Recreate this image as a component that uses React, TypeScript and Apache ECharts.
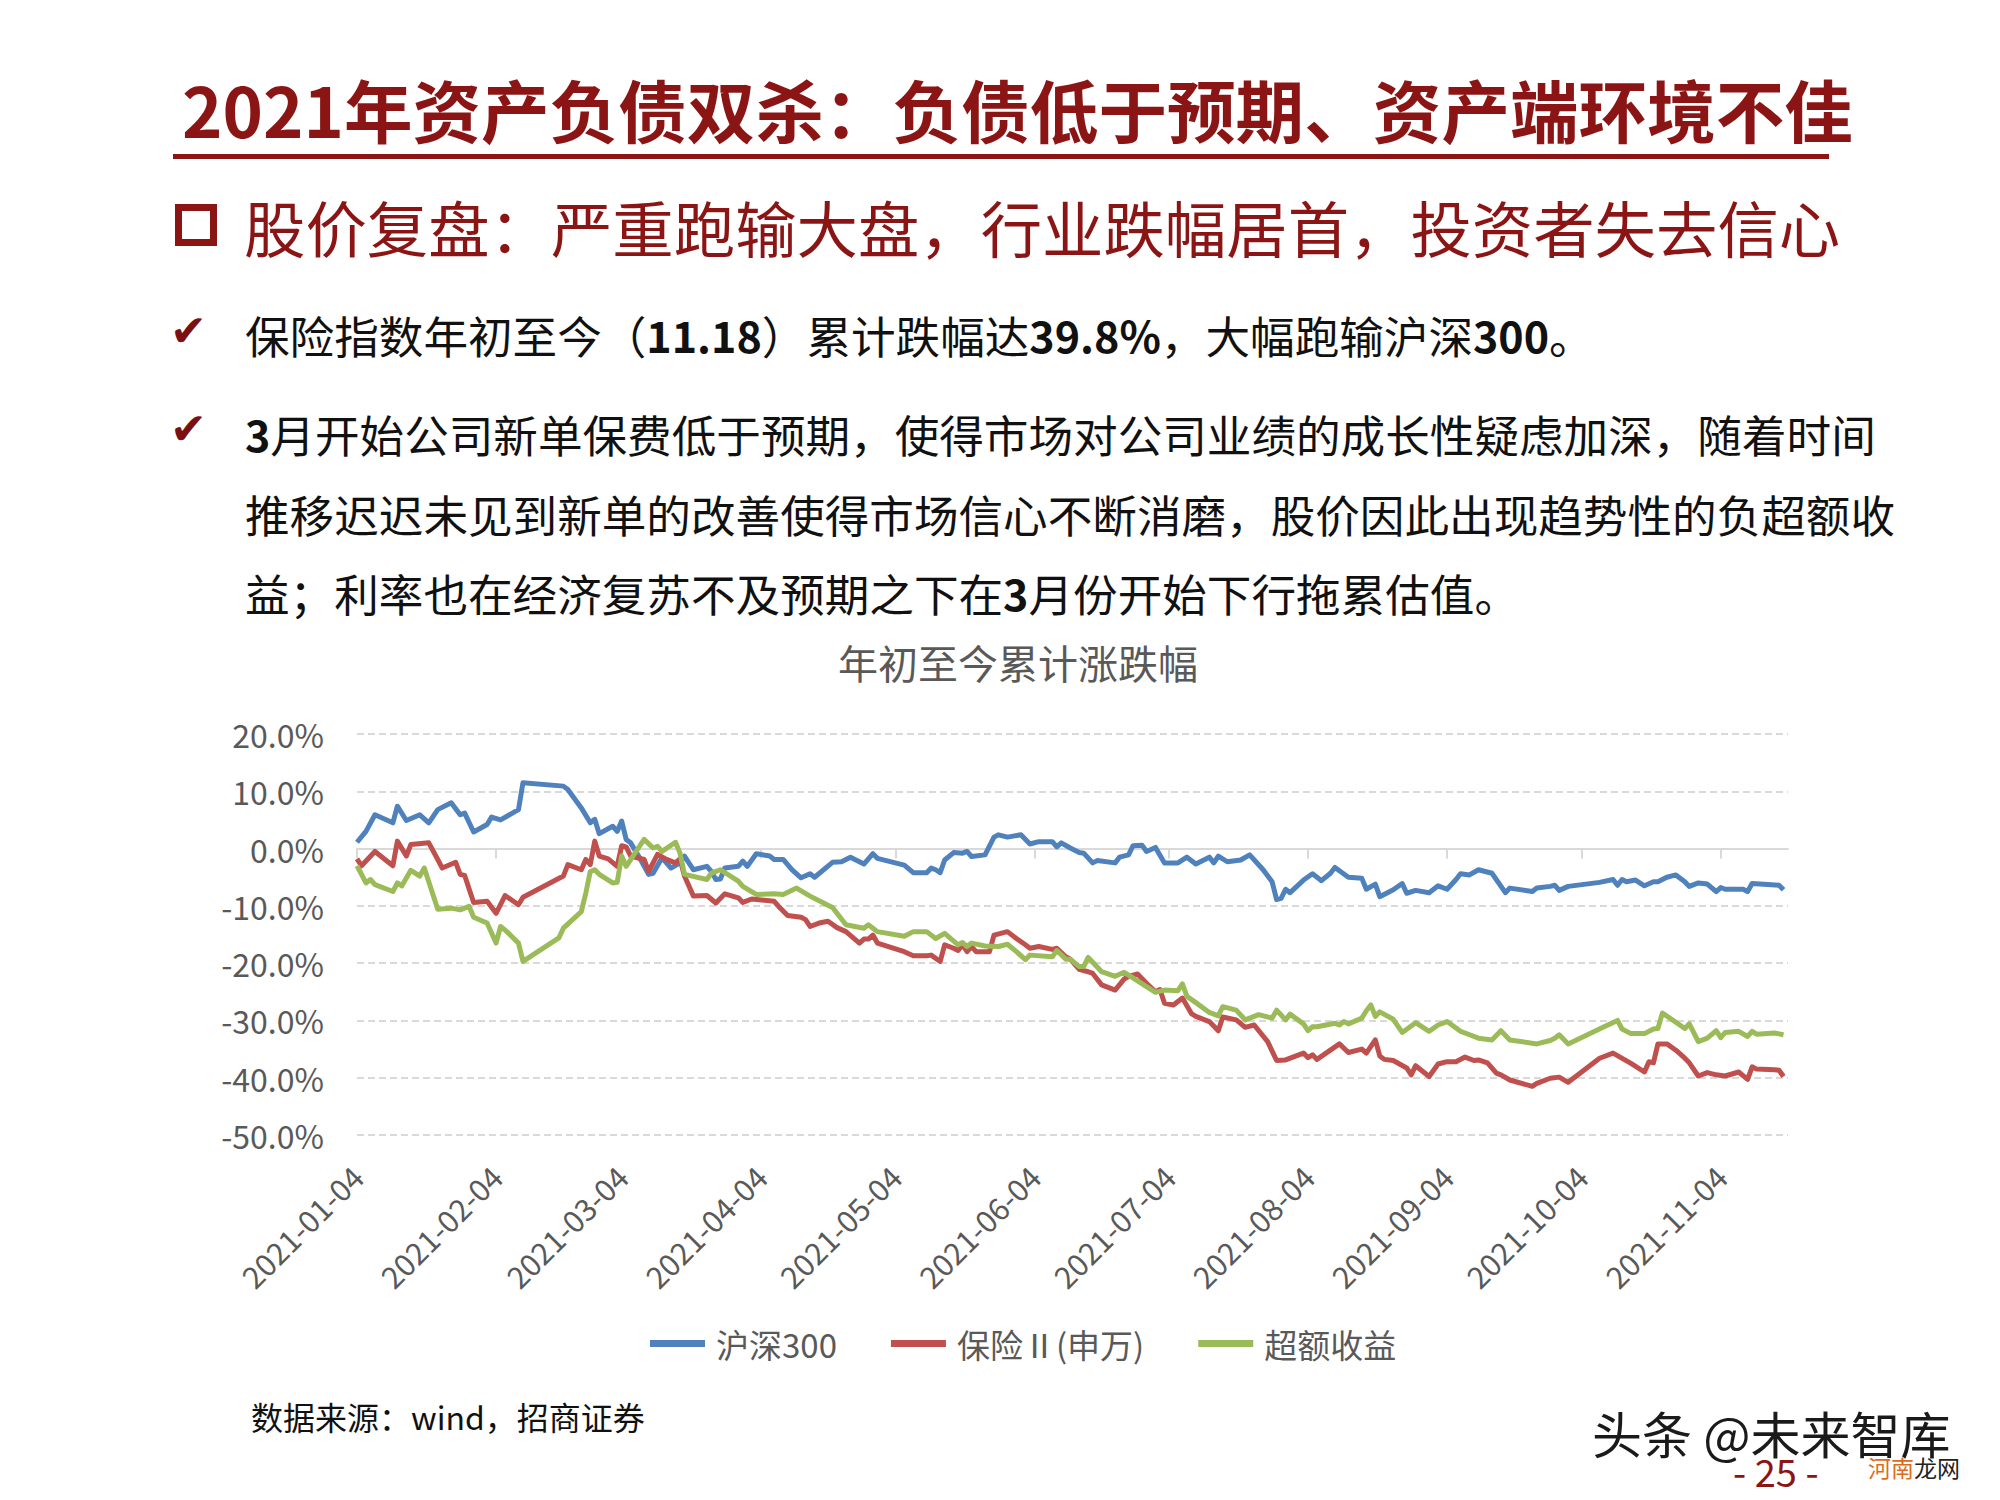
import React, { useEffect, useRef } from "react";
import * as echarts from "echarts";

// ---------- data ----------
const START_DATE = "2021-01-04";
const tickDates = [
  "2021-01-04", "2021-02-04", "2021-03-04", "2021-04-04", "2021-05-04", "2021-06-04",
  "2021-07-04", "2021-08-04", "2021-09-04", "2021-10-04", "2021-11-04",
];
const seriesNames = ["沪深300", "保险Ⅱ(申万)", "超额收益"];
const yTicks = [-50, -40, -30, -20, -10, 0, 10, 20];

// [days since 2021-01-04, cumulative change %]
const hs300: [number, number][] = [
  [0, 1.1], [2, 3.0], [4, 5.9], [8, 4.5], [9, 7.4], [11, 4.9], [14, 5.9], [16, 4.5], [18, 6.8],
  [21, 8.0], [23, 5.9], [24, 6.2], [26, 2.9], [29, 4.2], [30, 5.5], [32, 5.0], [36, 6.8], [37, 11.5],
  [46, 10.9], [47, 10.3], [50, 7.1], [52, 4.5], [53, 5.1], [54, 2.6], [57, 3.9], [58, 3.0], [59, 4.8],
  [60, 1.6], [61, 1.0], [63, -1.6], [65, -4.5], [66, -4.3], [68, -1.6], [70, -3.4], [72, -2.5],
  [73, -1.3], [75, -3.7], [78, -3.1], [79, -4.0], [80, -5.4], [81, -5.3], [82, -3.4], [85, -3.1],
  [86, -2.2], [87, -3.1], [89, -0.9], [92, -1.3], [93, -1.9], [95, -1.9], [97, -3.7], [99, -5.1],
  [101, -4.4], [102, -5.0], [106, -2.4], [108, -2.3], [110, -1.5], [113, -2.7], [115, -0.9],
  [116, -1.7], [122, -2.9], [124, -4.2], [127, -4.2], [128, -3.4], [129, -3.7], [130, -4.2],
  [131, -2.0], [133, -0.7], [135, -0.8], [136, -0.5], [137, -1.4], [140, -1.1], [142, 2.0],
  [143, 2.4], [145, 2.0], [148, 2.4], [150, 0.8], [152, 1.2], [155, 1.2], [156, 0.3], [157, 1.0],
  [159, 0.1], [161, -0.7], [162, -0.8], [164, -2.5], [165, -2.1], [169, -2.5], [170, -1.5],
  [172, -1.1], [173, 0.5], [175, 0.6], [176, -0.5], [178, 0.2], [180, -2.5], [183, -2.5],
  [185, -1.5], [187, -2.7], [190, -1.5], [191, -2.5], [192, -1.3], [194, -2.3], [197, -2.0],
  [199, -1.1], [202, -3.7], [204, -5.8], [205, -8.9], [206, -8.7], [207, -7.1], [208, -7.7],
  [211, -5.5], [213, -4.4], [215, -5.6], [217, -4.3], [218, -3.3], [221, -5.0], [224, -5.2],
  [225, -7.1], [227, -6.2], [228, -8.4], [231, -7.2], [233, -6.1], [234, -7.8], [236, -7.3],
  [239, -7.7], [241, -6.5], [243, -7.1], [245, -5.4], [246, -4.4], [248, -4.6], [250, -3.7],
  [253, -4.3], [256, -7.7], [257, -6.9], [262, -7.5], [263, -6.9], [266, -6.6], [267, -6.4],
  [268, -7.3], [270, -6.6], [277, -5.9], [280, -5.4], [281, -6.4], [282, -5.4], [283, -5.8],
  [285, -5.5], [287, -6.5], [289, -5.8], [290, -5.8], [292, -5.0], [294, -4.6], [296, -5.8],
  [297, -6.6], [299, -6.0], [301, -6.2], [303, -7.5], [304, -6.8], [305, -7.1], [309, -7.1],
  [310, -7.5], [311, -6.1], [317, -6.4], [318, -7.2],
];

const insurance: [number, number][] = [
  [0, -1.8], [1, -3.0], [4, -0.5], [8, -3.0], [9, 1.3], [11, -1.3], [12, 0.7], [16, 1.0],
  [18, -1.9], [19, -3.4], [22, -2.4], [23, -4.5], [24, -4.7], [26, -9.4], [29, -9.2], [31, -11.3],
  [33, -8.2], [36, -9.8], [37, -8.5], [46, -4.8], [47, -2.8], [50, -3.7], [51, -1.9], [52, -2.8],
  [53, 1.3], [54, -1.3], [56, -1.8], [58, -3.1], [59, 0.5], [60, 0.3], [61, -1.3], [64, -1.9],
  [65, -4.0], [67, -1.0], [69, -1.9], [71, -2.5], [72, -1.8], [73, -4.8], [75, -8.3], [78, -8.2],
  [80, -9.5], [82, -7.9], [85, -8.6], [86, -9.4], [88, -8.8], [93, -9.2], [94, -10.1], [96, -11.7],
  [99, -12.0], [100, -12.4], [101, -13.6], [103, -13.0], [105, -12.7], [107, -13.8], [109, -14.5],
  [112, -16.5], [113, -15.8], [114, -15.8], [115, -15.1], [116, -16.5], [122, -18.0], [124, -18.7],
  [127, -18.7], [128, -18.6], [130, -19.7], [131, -16.8], [133, -17.4], [134, -17.8], [135, -16.8],
  [136, -18.0], [137, -17.1], [138, -18.0], [141, -18.0], [142, -15.1], [145, -14.5], [147, -15.7],
  [149, -16.8], [150, -17.4], [152, -17.1], [155, -17.6], [156, -17.4], [158, -18.9], [159, -19.3],
  [161, -21.1], [163, -21.5], [164, -21.8], [166, -23.8], [169, -24.7], [171, -22.8], [172, -22.3],
  [174, -21.9], [176, -23.5], [178, -25.0], [179, -24.6], [180, -27.0], [182, -27.3], [184, -26.1],
  [186, -28.8], [187, -29.3], [190, -30.2], [192, -31.8], [193, -29.4], [196, -29.9], [198, -31.2],
  [200, -30.8], [203, -33.7], [205, -37.0], [207, -36.9], [211, -35.7], [212, -36.5], [213, -36.0],
  [214, -36.8], [219, -34.1], [221, -35.6], [224, -35.0], [225, -35.7], [227, -33.4], [228, -36.2],
  [229, -36.8], [231, -37.0], [234, -38.3], [235, -39.5], [236, -37.9], [239, -39.8], [241, -37.6],
  [243, -37.2], [245, -37.2], [247, -36.4], [249, -37.0], [250, -36.9], [252, -37.4], [254, -39.2],
  [255, -39.5], [257, -40.4], [262, -41.5], [263, -41.0], [266, -40.1], [268, -39.9], [270, -40.8],
  [277, -36.6], [280, -35.7], [284, -37.5], [287, -39.0], [288, -37.2], [289, -37.4], [290, -34.1],
  [292, -34.1], [294, -35.2], [296, -36.6], [297, -37.4], [299, -39.7], [301, -39.1], [303, -39.5],
  [305, -39.7], [308, -39.0], [310, -40.3], [311, -38.1], [312, -38.5], [316, -38.6], [317, -38.7],
  [318, -39.8],
];

const excess: [number, number][] = [
  [0, -3.0], [2, -6.0], [3, -5.4], [4, -6.3], [8, -7.5], [9, -6.0], [10, -6.5], [12, -3.8],
  [14, -4.8], [15, -3.4], [18, -10.6], [21, -10.4], [23, -10.7], [25, -10.1], [26, -12.0],
  [29, -13.0], [31, -16.5], [32, -13.6], [33, -14.2], [36, -16.5], [37, -19.7], [45, -15.6],
  [46, -13.9], [50, -11.0], [51, -7.8], [52, -4.0], [53, -3.7], [54, -4.5], [57, -6.0], [58, -5.9],
  [59, -1.3], [60, -3.1], [64, 1.6], [66, 0.1], [67, 0.4], [68, -0.5], [71, 1.1], [72, -0.8],
  [73, -4.5], [78, -5.4], [79, -4.3], [81, -3.7], [85, -5.7], [86, -6.6], [89, -8.0], [93, -7.9],
  [95, -8.0], [98, -6.9], [101, -8.3], [104, -9.5], [106, -10.3], [107, -11.3], [109, -13.3],
  [113, -13.9], [114, -13.3], [115, -13.9], [116, -14.5], [122, -15.3], [124, -14.5], [127, -14.5],
  [129, -15.7], [131, -14.8], [134, -16.8], [135, -16.4], [136, -17.1], [137, -16.5], [140, -17.0],
  [143, -17.1], [145, -16.7], [147, -18.0], [149, -19.4], [150, -18.6], [155, -18.9], [156, -17.8],
  [158, -19.3], [159, -19.3], [161, -20.6], [162, -20.6], [163, -19.0], [166, -21.5], [169, -22.3],
  [171, -21.6], [172, -22.1], [178, -25.1], [180, -24.7], [183, -24.8], [184, -23.6], [185, -25.8],
  [187, -26.9], [190, -28.6], [192, -29.2], [193, -27.6], [196, -28.2], [198, -29.9], [201, -29.0],
  [204, -29.6], [205, -28.2], [207, -29.9], [208, -28.9], [211, -30.6], [212, -31.8], [213, -31.1],
  [214, -31.1], [218, -30.5], [219, -30.8], [220, -30.2], [221, -30.6], [224, -29.6], [225, -28.3],
  [226, -27.3], [227, -29.3], [228, -28.5], [231, -29.8], [233, -32.1], [236, -30.4], [239, -31.9],
  [241, -30.8], [243, -30.2], [246, -31.9], [247, -32.2], [250, -33.1], [253, -33.4], [255, -31.8],
  [257, -33.4], [263, -34.1], [266, -33.5], [267, -33.1], [268, -32.5], [270, -34.1], [278, -31.1],
  [281, -30.0], [282, -31.5], [284, -32.3], [287, -32.3], [289, -31.5], [290, -31.4], [291, -28.7],
  [296, -31.4], [297, -30.6], [299, -33.7], [301, -33.1], [303, -31.8], [304, -33.0], [305, -32.1],
  [308, -31.9], [310, -32.8], [311, -31.9], [312, -32.4], [316, -32.2], [318, -32.5],
];

// ---------- helpers ----------
const DAY = 86400000;
const startMs = Date.parse(START_DATE);
const tickOffsets = tickDates.map((s) => Math.round((Date.parse(s) - startMs) / DAY));

const FONT = '"Noto Sans CJK SC", "Noto Sans", sans-serif';
const DARK_RED = "#8B1414";
const GRAY = "#595959";
const colors = ["#4F81BD", "#C0504D", "#9BBB59"];

export default function App() {
  const ref = useRef<HTMLDivElement>(null);

  useEffect(() => {
    if (!ref.current) return;
    const chart = echarts.init(ref.current, null, { renderer: "svg" });

    const bodyRich = {
      b: { fontFamily: FONT, fontSize: 43, fontWeight: "bold", fill: "#111" } as any,
    };
    const bulletText = (x: number, y: number, text: string) => ({
      type: "text",
      x,
      y,
      style: {
        text,
        fontFamily: FONT,
        fontSize: 44.6,
        fill: "#111",
        verticalAlign: "middle",
        align: "left",
        rich: bodyRich,
      },
    });
    const check = (y: number) => ({
      type: "text",
      x: 170,
      y,
      style: {
        text: "✔",
        fontFamily: '"DejaVu Sans", sans-serif',
        fontSize: 44,
        fill: "#7A1010",
        verticalAlign: "middle",
        align: "left",
      },
    });

    const option: any = {
      animation: false,
      backgroundColor: "#ffffff",
      color: colors,
      grid: { left: 357, top: 734, width: 1431, height: 401 },
      legend: {
        left: 650,
        top: 1327,
        padding: 0,
        itemWidth: 55,
        itemHeight: 7,
        itemGap: 54,
        icon: "rect",
        data: seriesNames,
        textStyle: { fontFamily: FONT, fontSize: 33, color: GRAY, padding: [0, 0, 0, 6] },
      },
      xAxis: [
        {
          type: "value",
          min: 0,
          max: 319,
          axisLine: { show: true, onZero: true, lineStyle: { color: "#d9d9d9", width: 2 } },
          axisTick: {
            show: true,
            customValues: tickOffsets,
            length: 10,
            inside: false,
            lineStyle: { color: "#d9d9d9", width: 2 },
          },
          axisLabel: { show: false },
          splitLine: { show: false },
        },
        {
          type: "value",
          min: 0,
          max: 319,
          position: "bottom",
          axisLine: { show: false, onZero: false },
          axisTick: { show: false },
          splitLine: { show: false },
          axisLabel: {
            show: true,
            customValues: tickOffsets,
            rotate: 45,
            margin: 36,
            color: GRAY,
            fontFamily: FONT,
            fontSize: 30.5,
            formatter: (v: number) => {
              const i = tickOffsets.indexOf(Math.round(v));
              return i >= 0 ? tickDates[i] : "";
            },
          },
        },
      ],
      yAxis: {
        type: "value",
        min: yTicks[0],
        max: yTicks[yTicks.length - 1],
        interval: 10,
        axisLine: { show: false },
        axisTick: { show: false },
        axisLabel: {
          color: GRAY,
          fontFamily: FONT,
          fontSize: 32,
          margin: 33,
          formatter: (v: number) => v.toFixed(1) + "%",
        },
        splitLine: { show: true, lineStyle: { color: "#d9d9d9", width: 2, type: [7, 4] } },
      },
      series: [
        { name: seriesNames[0], data: hs300 },
        { name: seriesNames[1], data: insurance },
        { name: seriesNames[2], data: excess },
      ].map((s, i) => ({
        type: "line",
        name: s.name,
        data: s.data,
        xAxisIndex: 0,
        yAxisIndex: 0,
        showSymbol: false,
        symbol: "none",
        lineStyle: { width: 5, color: colors[i], join: "round" },
        itemStyle: { color: colors[i] },
      })),
      graphic: [
        {
          type: "text",
          x: 182,
          y: 108,
          style: {
            text: "2021年资产负债双杀：负债低于预期、资产端环境不佳",
            fontFamily: FONT,
            fontSize: 68.6,
            fontWeight: "bold",
            fill: DARK_RED,
            verticalAlign: "middle",
            align: "left",
          },
        },
        { type: "rect", shape: { x: 173, y: 154, width: 1656, height: 5 }, style: { fill: DARK_RED } },
        {
          type: "rect",
          shape: { x: 178.5, y: 207.5, width: 35, height: 35 },
          style: { fill: "none", stroke: DARK_RED, lineWidth: 7 },
        },
        {
          type: "text",
          x: 244,
          y: 226,
          style: {
            text: "股价复盘：严重跑输大盘，行业跌幅居首，投资者失去信心",
            fontFamily: FONT,
            fontSize: 61.4,
            fill: DARK_RED,
            verticalAlign: "middle",
            align: "left",
          },
        },
        check(330),
        bulletText(245, 334, "保险指数年初至今（{b|11.18}）累计跌幅达{b|39.8%}，大幅跑输沪深{b|300}。"),
        check(428),
        bulletText(245, 433, "{b|3}月开始公司新单保费低于预期，使得市场对公司业绩的成长性疑虑加深，随着时间"),
        bulletText(245, 513, "推移迟迟未见到新单的改善使得市场信心不断消磨，股价因此出现趋势性的负超额收"),
        bulletText(245, 592, "益；利率也在经济复苏不及预期之下在{b|3}月份开始下行拖累估值。"),
        {
          type: "text",
          x: 1018,
          y: 662,
          style: {
            text: "年初至今累计涨跌幅",
            fontFamily: FONT,
            fontSize: 40,
            fill: GRAY,
            verticalAlign: "middle",
            align: "center",
          },
        },
        {
          type: "text",
          x: 251,
          y: 1416,
          style: {
            text: "数据来源：wind，招商证券",
            fontFamily: FONT,
            fontSize: 32,
            fill: "#111",
            verticalAlign: "middle",
            align: "left",
          },
        },
        {
          type: "text",
          x: 1592,
          y: 1432,
          style: {
            text: "头条 @未来智库",
            fontFamily: FONT,
            fontSize: 50,
            fill: "#1a1a1a",
            stroke: "#ffffff",
            lineWidth: 2,
            verticalAlign: "middle",
            align: "left",
          },
        },
        {
          type: "text",
          x: 1733,
          y: 1470,
          style: {
            text: "- 25 -",
            fontFamily: FONT,
            fontSize: 38,
            fill: DARK_RED,
            verticalAlign: "middle",
            align: "left",
          },
        },
        {
          type: "text",
          x: 1868,
          y: 1467,
          style: {
            text: "{o|河南}{k|龙网}",
            fontFamily: FONT,
            fontSize: 23,
            verticalAlign: "middle",
            align: "left",
            rich: {
              o: { fontFamily: FONT, fontSize: 23, fill: "#E06A1B" },
              k: { fontFamily: FONT, fontSize: 23, fill: "#222" },
            },
          },
        },
      ],
    };

    chart.setOption(option);
    return () => chart.dispose();
  }, []);

  return (
    <div
      ref={ref}
      style={{ position: "fixed", left: 0, top: 0, width: 2000, height: 1500, background: "#fff" }}
    />
  );
}
